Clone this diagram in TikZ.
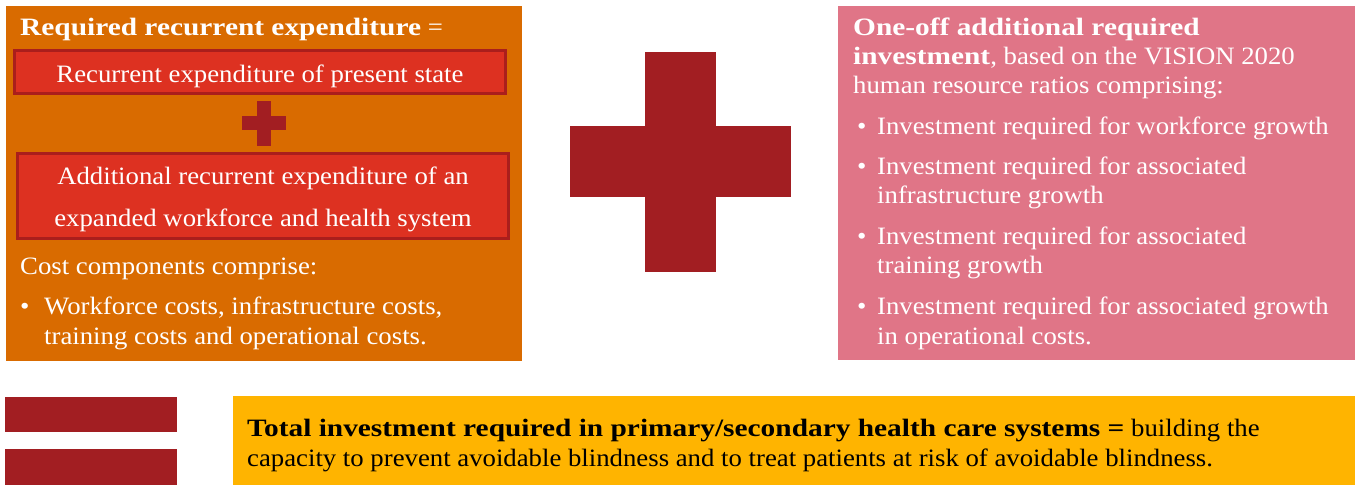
\documentclass[tikz,border=0pt]{standalone}
\usepackage{fontspec}
\setmainfont{Liberation Serif}[FakeStretch=1.07, BoldFeatures={FakeStretch=1.175}]
\definecolor{orangebg}{RGB}{217,107,0}
\definecolor{redbox}{RGB}{221,49,33}
\definecolor{redborder}{RGB}{170,30,28}
\definecolor{darkred}{RGB}{162,30,34}
\definecolor{pinkbg}{RGB}{224,117,135}
\definecolor{yellowbg}{RGB}{255,180,0}
\begin{document}
\begin{tikzpicture}[x=1pt,y=-1pt,
  redbx/.style={fill=redbox, draw=redborder, line width=3pt},
  sym/.style={fill=darkred},
  wtxt/.style={inner sep=0pt, anchor=base west, text=white, font=\fontsize{25}{29}\selectfont},
  ctxt/.style={inner sep=0pt, anchor=base, text=white, font=\fontsize{25}{29}\selectfont},
  btxt/.style={inner sep=0pt, anchor=base west, text=black, font=\fontsize{25}{29}\selectfont}]
\useasboundingbox (0,0) rectangle (1359,485);
% panels
\fill[orangebg] (6,6) rectangle (522,361);
\fill[pinkbg] (838,6) rectangle (1355,360);
\fill[yellowbg] (233,396) rectangle (1355,485);
% red boxes
\draw[redbx] (14.5,50.5) rectangle (505.5,93.5);
\draw[redbx] (17.5,153.5) rectangle (508.5,238.5);
% small plus
\fill[sym] (257,101) rectangle (271,146);
\fill[sym] (242,116) rectangle (286,130);
% big plus
\fill[sym] (645,52) rectangle (716,272);
\fill[sym] (570,126) rectangle (791,197);
% equals
\fill[sym] (5,397) rectangle (177,432);
\fill[sym] (5,449) rectangle (177,485);
% orange texts
\node[wtxt] (o1) at (20,35) {\textbf{Required recurrent expenditure} =};
\node[ctxt] (o2) at (260,82) {Recurrent expenditure of present state};
\node[ctxt] (o3) at (263,184) {Additional recurrent expenditure of an};
\node[ctxt] (o4) at (263,226) {expanded workforce and health system};
\node[wtxt] (o5) at (20,274) {Cost components comprise:};
\node[wtxt] (o6b) at (20,314) {•};
\node[wtxt] (o6) at (44,314) {Workforce costs, infrastructure costs,};
\node[wtxt] (o7) at (44,344) {training costs and operational costs.};
% pink texts
\node[wtxt] (p1) at (853,35) {\textbf{One-off additional required}};
\node[wtxt] (p2) at (853,64) {\textbf{investment}, based on the VISION 2020};
\node[wtxt] (p3) at (853,93) {human resource ratios comprising:};
\node[wtxt] (p4b) at (857,134) {•};
\node[wtxt] (p4) at (877,134) {Investment required for workforce growth};
\node[wtxt] (p5b) at (857,174) {•};
\node[wtxt] (p5) at (877,174) {Investment required for associated};
\node[wtxt] (p6) at (877,203) {infrastructure growth};
\node[wtxt] (p7b) at (857,244) {•};
\node[wtxt] (p7) at (877,244) {Investment required for associated};
\node[wtxt] (p8) at (877,273) {training growth};
\node[wtxt] (p9b) at (857,314) {•};
\node[wtxt] (p9) at (877,314) {Investment required for associated growth};
\node[wtxt] (p10) at (877,344) {in operational costs.};
% bottom text
\node[btxt] (y1) at (247,436) {\textbf{Total investment required in primary/secondary health care systems =} building the};
\node[btxt] (y2) at (247,466) {capacity to prevent avoidable blindness and to treat patients at risk of avoidable blindness.};
\end{tikzpicture}
\end{document}
